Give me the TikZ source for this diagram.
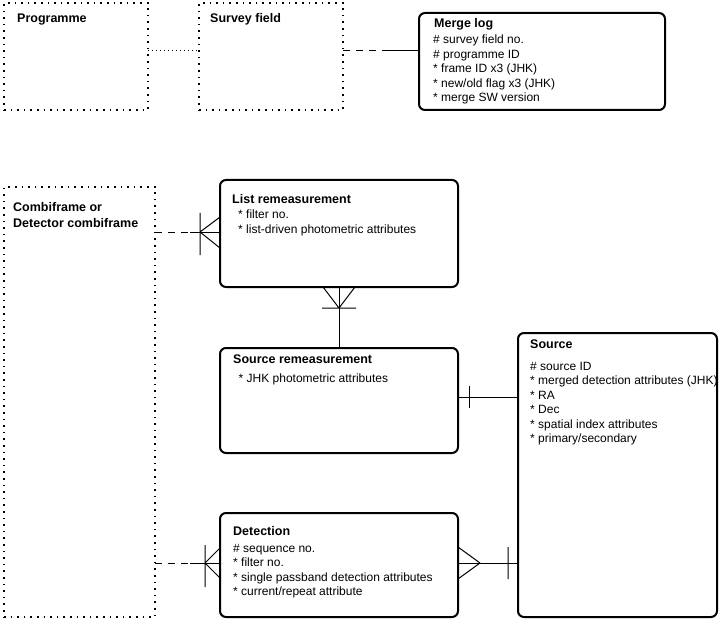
\documentclass[tikz,border=0pt]{standalone}
\usepackage{fontspec}
\setmainfont{Liberation Sans}

\begin{document}
\begin{tikzpicture}[x=1pt,y=-1pt,
  entity/.style={draw, line width=2pt, rounded corners=6pt, anchor=north west, inner sep=0pt, outer sep=0pt},
  ghost/.style={draw, line width=1.6pt, dash pattern=on 1.6pt off 5pt, anchor=north west, inner sep=0pt, outer sep=0pt},
  heading/.style={anchor=base west, inner sep=0pt, align=left, font=\bfseries\fontsize{12.5}{15.7}\selectfont},
  attrs/.style={anchor=base west, inner sep=0pt, align=left, font=\fontsize{12}{14.5}\selectfont},
  link/.style={line width=1pt},
  dashlink/.style={line width=1pt, dash pattern=on 7pt off 6pt},
  dotlink/.style={line width=1pt, dash pattern=on 1pt off 3pt}]
\useasboundingbox (0,0) rectangle (719,620);

% outside entities
\node[ghost, minimum width=144, minimum height=107] (prog) at (4,3) {};
\node[ghost, minimum width=144, minimum height=107] (field) at (199,3) {};
\node[ghost, minimum width=151, minimum height=430] (comb) at (4,187) {};
% entities
\node[entity, minimum width=246, minimum height=97] (mlog) at (419,13) {};
\node[entity, minimum width=238, minimum height=107] (lrem) at (220,180) {};
\node[entity, minimum width=238, minimum height=105] (srem) at (220,348) {};
\node[entity, minimum width=238, minimum height=104] (det) at (220,513) {};
\node[entity, minimum width=199, minimum height=284] (src) at (518,333) {};

% texts (base = last line)
\node[heading] (prog-t) at (17,23) {Programme};
\node[heading] (field-t) at (210,23) {Survey field};
\node[heading] (mlog-t) at (434,28) {Merge log};
\node[attrs] (mlog-a) at (433,102) {\# survey field no.\\\# programme ID\\* frame ID x3 (JHK)\\* new/old flag x3 (JHK)\\* merge SW version};
\node[heading] (comb-t) at (13,227) {Combiframe or\\Detector combiframe};
\node[heading] (lrem-t) at (232,203.5) {List remeasurement};
\node[attrs] (lrem-a) at (238,233.5) {* filter no.\\[1pt]* list-driven photometric attributes};
\node[heading] (srem-t) at (233,363.5) {Source remeasurement};
\node[attrs] (srem-a) at (238.5,382) {* JHK photometric attributes};
\node[heading] (src-t) at (530,348.5) {Source};
\node[attrs] (src-a) at (530,442.5) {\# source ID\\* merged detection attributes (JHK)\\* RA\\* Dec\\* spatial index attributes\\* primary/secondary};
\node[heading] (det-t) at (233,535.5) {Detection};
\node[attrs] (det-a) at (233,595.5) {\# sequence no.\\* filter no.\\* single passband detection attributes\\* current/repeat attribute};

% top row
\coordinate (r1) at (0,51);
\coordinate (mlog-x) at (383,51);
\draw[dotlink] (prog.east |- r1) -- (field.west |- r1);
\draw[dashlink] (field.east |- r1) -- (mlog-x);
\draw[link] (mlog-x) -- (mlog.west |- r1);

% combiframe -- list remeasurement
\coordinate (lrem-x) at (190,232);
\coordinate (lrem-crow) at (200,232);
\draw[dashlink] (comb.east |- lrem-x) -- (lrem-x);
\draw[link] (lrem-x) -- (lrem.west |- lrem-x);
\draw[link] (lrem-crow) -- ++(20,-15) (lrem-crow) -- ++(20,16) (lrem-crow) ++(0,-19) -- ++(0,42);

% list remeasurement -- source remeasurement
\coordinate (srem-crow) at (339,308);
\draw[link] (lrem.south) -- (srem.north);
\draw[link] (srem-crow) -- ++(-16,-21) (srem-crow) -- ++(16,-21) (srem-crow) ++(-17,0) -- ++(34,0);

% source remeasurement -- source
\coordinate (src-r) at (469,397);
\draw[link] (srem.east |- src-r) -- (src.west |- src-r);
\draw[link] (src-r) ++(0,-11) -- ++(0,22);

% combiframe -- detection
\coordinate (det-x) at (190,563);
\coordinate (det-crow) at (205,563);
\draw[dashlink] (comb.east |- det-x) -- (det-x);
\draw[link] (det-x) -- (det.west |- det-x);
\draw[link] (det-crow) -- ++(15,-15) (det-crow) -- ++(15,15) (det-crow) ++(0,-18) -- ++(0,42);

% detection -- source
\coordinate (det-s) at (480,563);
\coordinate (src-s) at (508,563);
\draw[link] (det.east |- det-s) -- (src.west |- det-s);
\draw[link] (det-s) -- ++(-22,-16) (det-s) -- ++(-22,16) (src-s) ++(0,-16) -- ++(0,32);
\end{tikzpicture}
\end{document}
